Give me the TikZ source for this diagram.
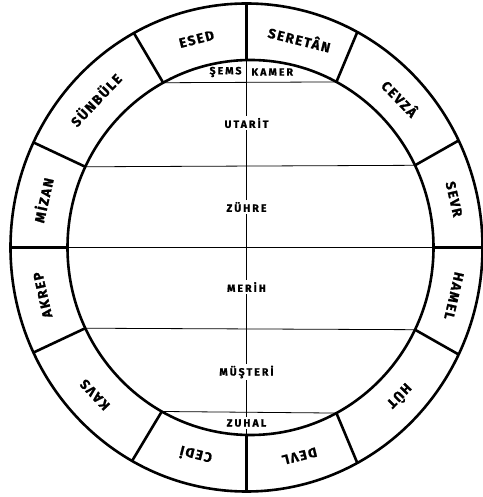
\documentclass[tikz,border=0pt]{standalone}
\usepackage{fontspec}
\setmainfont{Fira Sans}
\newfontfamily\ringfont[LetterSpace=12, BoldFeatures={FakeBold=1.2}]{Fira Sans}
\newfontfamily\planetfont[LetterSpace=20, BoldFeatures={FakeBold=1.2}]{Fira Sans}
\usetikzlibrary{calc}
\begin{document}
\begin{tikzpicture}[x=1pt,y=1pt,
  heavyline/.style={line width=2.6pt},
  lightline/.style={line width=0.8pt},
  ringlabel/.style={font=\ringfont\bfseries\fontsize{13.5}{14}\selectfont, inner sep=0pt},
  planetlabel/.style={font=\planetfont\bfseries\fontsize{10.5}{11}\selectfont, fill=white, inner sep=1.8pt}]
\useasboundingbox (-246.5,-249.5) rectangle (235.5,247.5);
% divider end points
\foreach \t [count=\k] in {26,62,118.5,154.5,205.5,241,298,334} {
  \coordinate (i\k) at ($(4pt,0pt)+(\t:183pt and 187.5pt)$);
  \coordinate (o\k) at (\t:236pt and 244pt);
}
\coordinate (itop) at (0,187.5);
\coordinate (otop) at (0,244);
\coordinate (ibot) at (0,-187.5);
\coordinate (obot) at (0,-244);
\coordinate (ileft) at (-179,0);
\coordinate (oleft) at (-236,0);
\coordinate (iright) at (187,0);
\coordinate (oright) at (236,0);
% thin inner lines
\draw[lightline] (itop) -- (ibot);
\draw[lightline] (ileft) -- (iright);
\draw[lightline] (i3) -- (i2);
\draw[lightline] (i4) -- (i1);
\draw[lightline] (i5) -- (i8);
\draw[lightline] (i6) -- (i7);
% ring dividers
\foreach \k in {1,...,8} { \draw[heavyline] (i\k) -- (o\k); }
\draw[heavyline] (itop) -- (otop);
\draw[heavyline] (ibot) -- (obot);
\draw[heavyline] (ileft) -- (oleft);
\draw[heavyline] (iright) -- (oright);
% circles
\draw[heavyline] (0,0) ellipse [x radius=236pt, y radius=244pt];
\draw[heavyline] (4,0) ellipse [x radius=183pt, y radius=187.5pt];
% ring labels
\foreach \t/\txt/\nm in {13/SEVR/sevr, 44/CEVZÂ/cevza, 76/SERETÂN/seretan, 104.25/ESED/esed,
  136.5/SÜNBÜLE/sunbule, 167.25/MİZAN/mizan, 192.75/AKREP/akrep, 223.25/KAVS/kavs,
  255.5/CEDİ/cedi, 284/DEVL/devl, 316/HÛT/hut, 347/HAMEL/hamel} {
  \node[ringlabel, rotate=\t-90] (\nm) at ($(2pt,0pt)+(\t:211pt and 215pt)$) {\txt};
}
% planet labels
\node[planetlabel, fill=none, anchor=east] (sems) at (-3,175.5) {ŞEMS};
\node[planetlabel, fill=none, anchor=west] (kamer) at (3,175.5) {KAMER};
\node[planetlabel] (utarit) at (0,124.5) {UTARİT};
\node[planetlabel] (zuhre) at (0,40.5) {ZÜHRE};
\node[planetlabel] (merih) at (0,-39.5) {MERİH};
\node[planetlabel] (musteri) at (0,-124.5) {MÜŞTERİ};
\node[planetlabel] (zuhal) at (0,-175.5) {ZUHAL};
\end{tikzpicture}
\end{document}
